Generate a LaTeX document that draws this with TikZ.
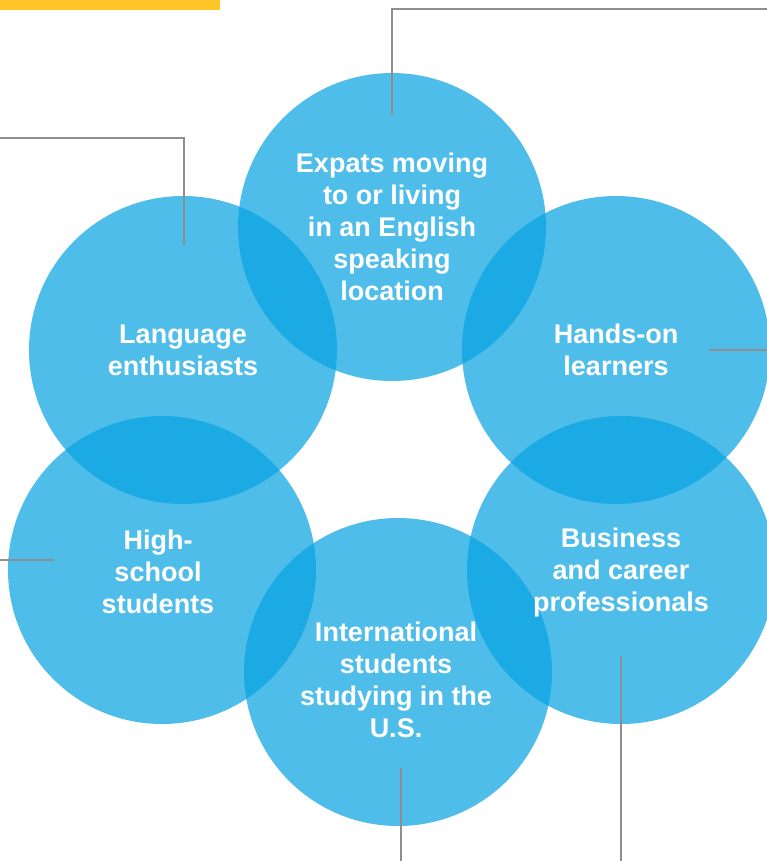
\documentclass[tikz,border=0pt]{standalone}
\usepackage{fontspec}
\setmainfont{Liberation Sans}
\usepackage{tikz}
\usetikzlibrary{positioning,calc}
\usepackage{xcolor}

\definecolor{bubbleblue}{RGB}{7,162,224}
\definecolor{baryellow}{RGB}{255,198,41}
\definecolor{leadgray}{RGB}{142,142,142}

\tikzset{
  bubble/.style={circle, fill=bubbleblue, fill opacity=0.71, minimum size=308pt, inner sep=0pt},
  bubbletext/.style={text=white, text opacity=1, font=\fontsize{27}{32}\selectfont\bfseries, align=center},
  leader/.style={draw=leadgray, line width=1.5pt}
}

\begin{document}
\begin{tikzpicture}[x=1pt, y=-1pt]
    \useasboundingbox (0,0) rectangle (767,861);
    \clip (0,0) rectangle (767,861);

    % Yellow bar
    \fill[baryellow] (0,0) rectangle (220,10);

    % Circles
    \node[bubble] (expats) at (392,227) {};
    \node[bubble] (language) at (183,350) {};
    \node[bubble] (handson) at (616,350) {};
    \node[bubble] (highschool) at (162,570) {};
    \node[bubble] (business) at (621,570) {};
    \node[bubble] (intl) at (398,672) {};

    % Labels
    \node[bubbletext] (expatstext) at (expats) {Expats moving\\to or living\\in an English\\speaking\\location};
    \node[bubbletext] (languagetext) at (language) {Language\\enthusiasts};
    \node[bubbletext] (handsontext) at (handson) {Hands-on\\learners};
    \node[bubbletext] (highschooltext) at ($(highschool)+(-4,2)$) {High-\\school\\students};
    \node[bubbletext] (businesstext) at ($(business)+(0,3)$) {Business\\and career\\professionals};
    \node[bubbletext] (intltext) at ($(intl)+(-2,8)$) {International\\students\\studying in the\\U.S.};

    % Leader lines
    \coordinate (expatsend) at (392,115);
    \coordinate (topright) at (767,9);
    \draw[leader] (expatsend) |- (topright);

    \coordinate (languageend) at (184,245);
    \coordinate (leftedge) at (0,138);
    \draw[leader] (languageend) |- (leftedge);

    \coordinate (handsonend) at (709,350);
    \coordinate (rightedge) at (767,350);
    \draw[leader] (handsonend) -- (rightedge);

    \coordinate (highschoolend) at (54,560);
    \coordinate (leftedgetwo) at (0,560);
    \draw[leader] (highschoolend) -- (leftedgetwo);

    \coordinate (intlend) at (401,768);
    \coordinate (bottomone) at (401,861);
    \draw[leader] (intlend) -- (bottomone);

    \coordinate (businessend) at (621,656);
    \coordinate (bottomtwo) at (621,861);
    \draw[leader] (businessend) -- (bottomtwo);
\end{tikzpicture}
\end{document}
